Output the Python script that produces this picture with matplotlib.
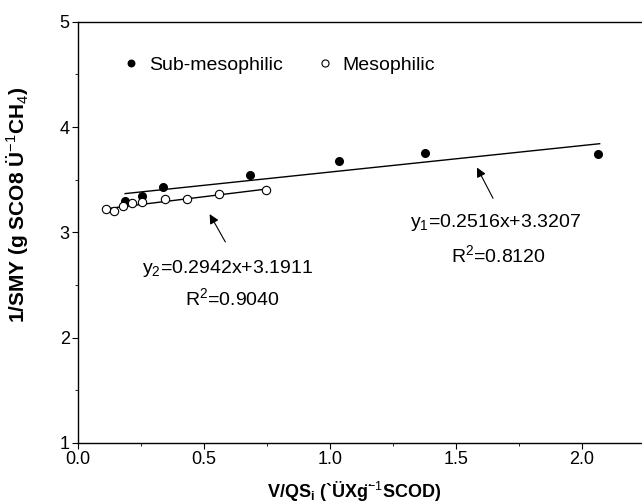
import matplotlib.pyplot as plt
from matplotlib.ticker import MultipleLocator
import numpy as np

plt.rcParams["font.family"] = ["Liberation Sans", "DejaVu Sans"]
plt.rcParams["mathtext.fontset"] = "custom"
plt.rcParams["mathtext.rm"] = "Liberation Sans"
plt.rcParams["mathtext.bf"] = "Liberation Sans:bold"

# data
sub_x = [0.185, 0.255, 0.338, 0.683, 1.034, 1.376, 2.063]
sub_y = [3.300, 3.345, 3.427, 3.546, 3.677, 3.750, 3.746]
meso_x = [0.110, 0.144, 0.180, 0.213, 0.253, 0.346, 0.431, 0.560, 0.746]
meso_y = [3.221, 3.200, 3.250, 3.281, 3.291, 3.319, 3.319, 3.367, 3.404]

fit1_slope, fit1_icpt = 0.2516, 3.3207
fit2_slope, fit2_icpt = 0.2942, 3.1911
fit1_range = [0.187, 2.07]
fit2_range = [0.110, 0.750]

fig = plt.figure(figsize=(6.42, 5.03), dpi=100)
ax = fig.add_axes([0.1215, 0.1193, 0.8785, 0.8376])

x1 = np.array(fit1_range)
x2 = np.array(fit2_range)
ax.plot(x1, fit1_slope * x1 + fit1_icpt, color="black", lw=1.0)
ax.plot(x2, fit2_slope * x2 + fit2_icpt, color="black", lw=1.0)

ax.plot(sub_x, sub_y, "o", color="black", ms=5.5, label="Sub-mesophilic")
ax.plot(meso_x, meso_y, "o", mfc="white", mec="black", mew=0.8, ms=6,
        label="Mesophilic")

ax.annotate("", xy=(1.578, 3.639), xytext=(1.652, 3.300),
            arrowprops=dict(arrowstyle="-|>", color="black", lw=0.8,
                            mutation_scale=14))
ax.annotate("", xy=(0.517, 3.196), xytext=(0.590, 2.886),
            arrowprops=dict(arrowstyle="-|>", color="black", lw=0.8,
                            mutation_scale=14))

ax.text(1.655, 3.089, r"y$_1$=0.2516x+3.3207", fontsize=14,
        ha="center", va="center")
ax.text(1.670, 2.775, r"R$^2$=0.8120", fontsize=14, ha="center", va="center")
ax.text(0.592, 2.659, r"y$_2$=0.2942x+3.1911", fontsize=14,
        ha="center", va="center")
ax.text(0.613, 2.366, r"R$^2$=0.9040", fontsize=14, ha="center", va="center")

ax.set_xlim(0, 2.238)
ax.set_ylim(1, 5)
ax.xaxis.set_major_locator(MultipleLocator(0.5))
ax.xaxis.set_minor_locator(MultipleLocator(0.25))
ax.yaxis.set_major_locator(MultipleLocator(1))
ax.yaxis.set_minor_locator(MultipleLocator(0.5))
ax.xaxis.set_major_formatter(plt.FormatStrFormatter("%.1f"))
ax.tick_params(which="major", direction="out", length=4, width=0.8,
               labelsize=13, pad=2)
ax.tick_params(which="minor", direction="out", length=2, width=0.6)
ax.spines["right"].set_visible(False)
for s in ["top", "bottom", "left"]:
    ax.spines[s].set_linewidth(1.0)

ax.set_xlabel("V/QS$_\\mathregular{i}$ (`ÜXg\u0308$^{-1}$SCOD)",
              fontsize=13, fontweight="bold")
ax.xaxis.set_label_coords(0.49, -0.088)
ax.set_ylabel("1/SMY (g SCO8 Ü$^{-1}$CH$_4$)", fontsize=15,
              fontweight="bold")
ax.yaxis.set_label_coords(-0.083, 0.565)

ax.legend(loc="center left", bbox_to_anchor=(0.06, 0.897), ncol=2,
          frameon=False, fontsize=14, handletextpad=0.3, columnspacing=1.6,
          handlelength=1.2, markerscale=0.85, borderaxespad=0)

fig.savefig("out.png", dpi=100)
